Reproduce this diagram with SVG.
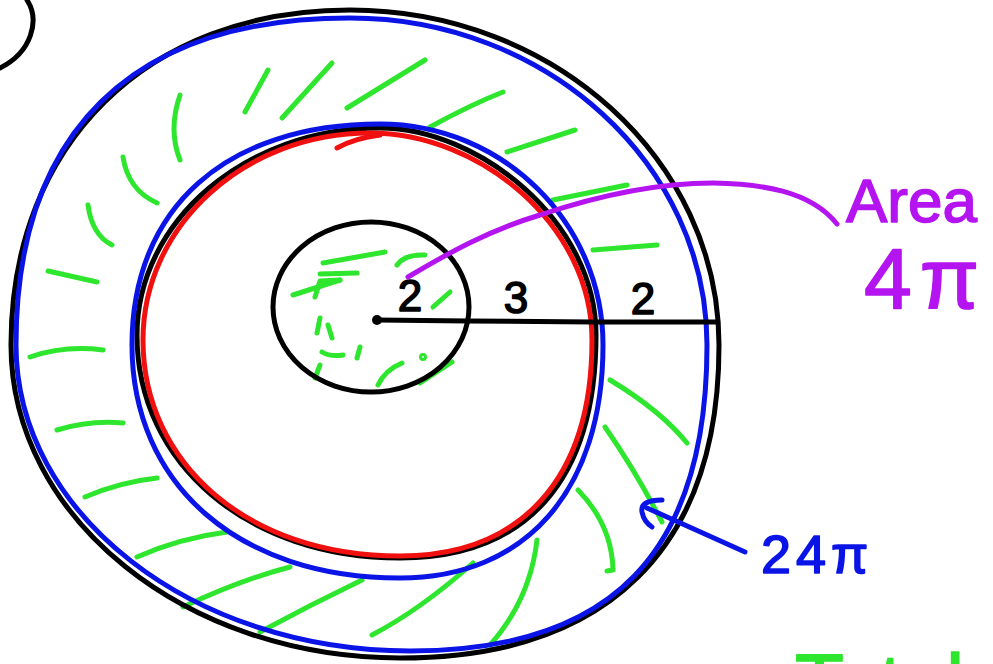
<svg xmlns="http://www.w3.org/2000/svg" width="993" height="664" viewBox="0 0 993 664">
<style>
.s{fill:none;stroke-width:5;stroke-linecap:round;stroke-linejoin:round}
.k{stroke:#000}
.b{stroke:#0a14e6}
.r{stroke:#f01010}
.g{stroke:#2ee62e}
.p{stroke:#b414f0}
.t{font-family:"Liberation Sans",Arial,sans-serif;stroke-width:1.6;stroke-linejoin:round}
</style>
<rect width="993" height="664" fill="#fff"/>
<g id="corner-arc"><path class="s k" d="M27 0 C40 20 32 52 0 68"/></g>
<g id="hatching" class="s g">
<path d="M245 112 L268 70"/>
<path d="M282 118 L332 63"/>
<path d="M347 108 L425 60"/>
<path d="M430 127 Q470 105 503 92"/>
<path d="M180 95 Q168 130 180 160"/>
<path d="M123 157 Q128 190 157 203"/>
<path d="M88 205 Q92 235 112 245"/>
<path d="M48 271 L97 282"/>
<path d="M507 152 L575 130"/>
<path d="M553 200 L627 185"/>
<path d="M593 250 L657 245"/>
<path d="M30 357 Q65 345 103 350"/>
<path d="M57 430 Q90 420 123 423"/>
<path d="M85 497 Q120 482 157 478"/>
<path d="M137 557 Q180 538 227 532"/>
<path d="M183 607 Q240 580 290 567"/>
<path d="M260 632 Q310 605 362 580"/>
<path d="M372 635 Q420 610 473 563"/>
<path d="M490 645 Q530 600 537 540"/>
<path d="M578 490 Q612 525 613 570 L607 571"/>
<path d="M605 427 Q635 470 662 522"/>
<path d="M610 380 Q660 410 687 443"/>
<path d="M323 263 L385 252"/>
<path d="M397 265 Q405 254 425 255"/>
<path d="M293 295 L340 280"/>
<path d="M320 274 L357 273"/>
<path d="M315 297 L320 281 L340 280"/>
<path d="M433 307 L450 292"/>
<path d="M320 318 L317 333"/>
<path d="M328 325 L332 338"/>
<path d="M322 352 Q330 357 343 355"/>
<path d="M360 347 L357 358"/>
<path d="M320 365 L315 378"/>
<path d="M402 363 Q385 370 378 385"/>
<path d="M452 362 L420 383"/>
<circle cx="423" cy="357" r="1.5"/>
</g>
<g id="outer-circle">
<path class="s k" d="M350 10 C553.7 10 719 160 719 345 C719 548.5 607.4 658 400 658 C185 658 11 517.8 11 345 C11 144 147 10 350 10 Z"/>
<path class="s b" d="M350 18 C547 18 707 164.5 707 345 C707 553 612 651 410 651 C192.5 651 16 514 16 345 C16 132 132 18 350 18 Z"/>
</g>
<g id="middle-circle">
<path class="s k" d="M380 128 C477 128 596 220 596 335 C596 480 527 558 400 558 C248 558 137 464 137 335 C137 221 246 128 380 128 Z"/>
<path class="s r" d="M370 133 C480 133 592 225 592 340 C592 480 520 556 400 556 C247 556 143 463 143 340 C143 225 245 133 370 133 Z"/>
<path class="s r" d="M337 148 Q355 138 380 135"/>
<path class="s b" d="M380 124 C503 124 603 223 603 345 C603 490 526 578 400 578 C239 578 132 485 132 345 C132 208 226 124 380 124 Z"/>
</g>
<g id="inner-circle">
<ellipse class="s k" cx="371" cy="307" rx="98" ry="85"/>
<circle cx="377" cy="320" r="5" fill="#000"/>
</g>
<g id="radius">
<path class="s k" d="M377 320 L468 321 L593 322 L716 322"/>
<g fill="#000" stroke="#000">
<text class="t" x="410" y="311" font-size="44" text-anchor="middle">2</text>
<text class="t" x="516" y="313" font-size="44" text-anchor="middle">3</text>
<text class="t" x="643" y="314" font-size="44" text-anchor="middle">2</text>
</g>
</g>
<g id="connectors">
<path class="s p" d="M408 277 C450 252 490 230 540 215 C600 195 660 183 713 183 C760 184 810 190 837 224"/>
<path class="s b" d="M745 552 L647 508"/>
<path class="s b" d="M662 500 Q640 500 642 512 Q644 522 652 527"/>
</g>
<g id="label-area" fill="#b414f0" stroke="#b414f0">
<text class="t" x="846" y="222" font-size="62">Area</text>
<text class="t" x="864" y="308" font-size="86" letter-spacing="8">4π</text>
</g>
<g id="label-24pi" fill="#0a14e6" stroke="#0a14e6">
<text class="t" x="761" y="573" font-size="54" letter-spacing="5">24π</text>
</g>
<g id="label-total" fill="#2ee62e" stroke="#2ee62e">
<text class="t" x="795" y="710" font-size="80">Total</text>
</g>
</svg>
